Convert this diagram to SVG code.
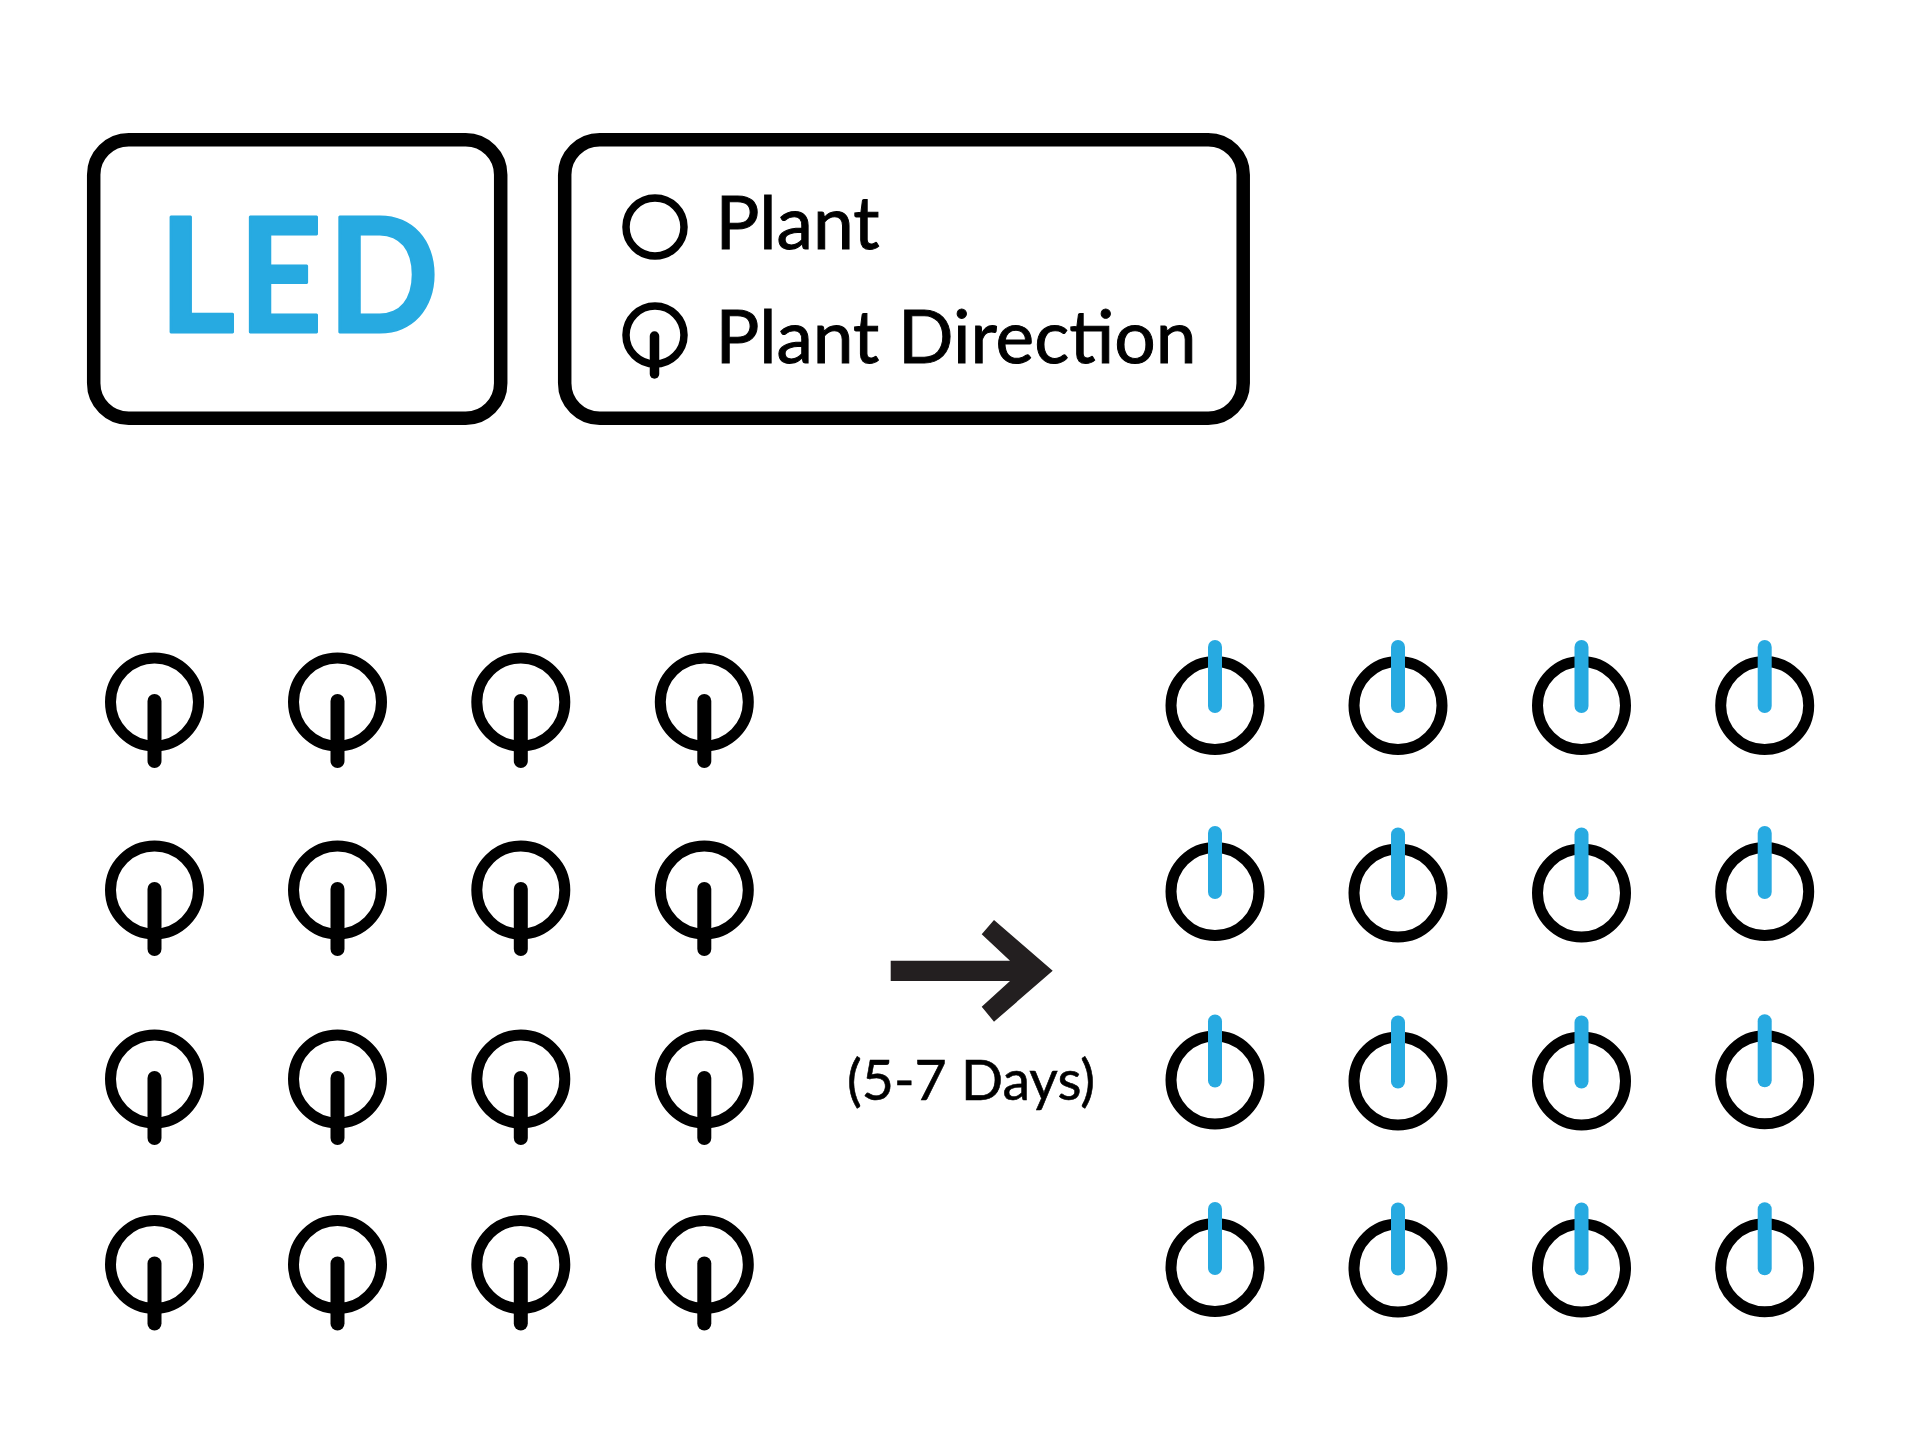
<svg xmlns="http://www.w3.org/2000/svg" width="1920" height="1455" viewBox="0 0 1920 1455">
<style>
.box{fill:#fff;stroke:#000;stroke-width:13.5}
.ring{fill:none;stroke:#000;stroke-width:11}
.ring2{fill:none;stroke:#000;stroke-width:7.5}
.stem{fill:none;stroke:#000;stroke-width:14;stroke-linecap:round}
.stem2{fill:none;stroke:#000;stroke-width:9.5;stroke-linecap:round}
.stemb{fill:none;stroke:#27aae1;stroke-width:14;stroke-linecap:round}
.lbl{font-family:"Lato","Open Sans",sans-serif;font-size:74px;fill:#000;stroke:#000;stroke-width:1}
.led{font-family:"Lato","Open Sans",sans-serif;font-weight:700;font-size:160px;fill:#27aae1;stroke:#27aae1;stroke-width:3;stroke-linejoin:round}
.days{font-family:"Lato","Open Sans",sans-serif;font-size:57px;fill:#000;stroke:#000;stroke-width:.6}
</style>
<defs>
<g id="before"><circle class="ring" r="44"/><path class="stem" d="M0 -1V59"/></g>
<g id="after"><circle class="ring" r="44"/><path class="stemb" d="M0 -58.500V0.500"/></g>
</defs>
<rect width="1920" height="1455" fill="#fff"/>
<g id="led-box"><rect class="box" x="93.700" y="139.700" width="407" height="278.500" rx="35"/>
<text class="led" transform="scale(.91 1)" y="332.500" x="175 262 360.500">LED</text></g>
<g id="legend"><rect class="box" x="564.700" y="139.700" width="678.500" height="278.500" rx="35"/>
<g id="legend-plant"><circle class="ring2" cx="655" cy="227" r="29"/><text class="lbl" x="715.500" y="249" textLength="164" lengthAdjust="spacingAndGlyphs">Plant</text></g>
<g id="legend-direction"><circle class="ring2" cx="655" cy="335" r="29"/><path class="stem2" d="M654.500 336V374"/><text class="lbl" x="715.500" y="363" textLength="481" lengthAdjust="spacingAndGlyphs">Plant Direction</text></g></g>
<g id="before-plants">
<use id="b11" href="#before" x="154.500" y="702"/><use id="b12" href="#before" x="337.500" y="702"/><use id="b13" href="#before" x="520.800" y="702"/><use id="b14" href="#before" x="704.300" y="702"/>
<use id="b21" href="#before" x="154.500" y="890"/><use id="b22" href="#before" x="337.500" y="890"/><use id="b23" href="#before" x="520.800" y="890"/><use id="b24" href="#before" x="704.300" y="890"/>
<use id="b31" href="#before" x="154.500" y="1079"/><use id="b32" href="#before" x="337.500" y="1079"/><use id="b33" href="#before" x="520.800" y="1079"/><use id="b34" href="#before" x="704.300" y="1079"/>
<use id="b41" href="#before" x="154.500" y="1264.500"/><use id="b42" href="#before" x="337.500" y="1264.500"/><use id="b43" href="#before" x="520.800" y="1264.500"/><use id="b44" href="#before" x="704.300" y="1264.500"/>
</g>
<g id="after-plants">
<use id="a11" href="#after" x="1215" y="705.500"/><use id="a12" href="#after" x="1398" y="705.500"/><use id="a13" href="#after" x="1581.500" y="705.500"/><use id="a14" href="#after" x="1764.700" y="705.500"/>
<use id="a21" href="#after" x="1215" y="891.500"/><use id="a22" href="#after" x="1398" y="893"/><use id="a23" href="#after" x="1581.500" y="893"/><use id="a24" href="#after" x="1764.700" y="891.500"/>
<use id="a31" href="#after" x="1215" y="1080"/><use id="a32" href="#after" x="1398" y="1081"/><use id="a33" href="#after" x="1581.500" y="1081"/><use id="a34" href="#after" x="1764.700" y="1079.700"/>
<use id="a41" href="#after" x="1215" y="1267.500"/><use id="a42" href="#after" x="1398" y="1268"/><use id="a43" href="#after" x="1581.500" y="1268"/><use id="a44" href="#after" x="1764.700" y="1267.800"/>
</g>
<g id="connectors"><polygon fill="#231f20" points="890.700,960.700 1010,960.700 981.700,934.300 994,920 1052.700,970.800 994,1021.700 981.700,1006.700 1010,981 890.700,981"/></g>
<g id="duration"><text class="days" x="847" y="1100" textLength="248" lengthAdjust="spacingAndGlyphs">(5-7 Days)</text></g>
</svg>
